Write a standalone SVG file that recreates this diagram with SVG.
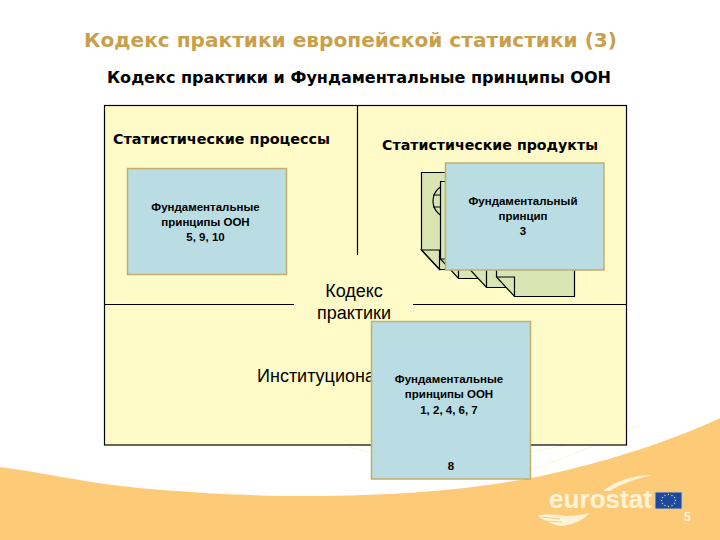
<svg xmlns="http://www.w3.org/2000/svg" width="720" height="540" viewBox="0 0 720 540">
<style>
.h{font-family:"DejaVu Sans","Noto Sans",sans-serif;font-weight:700}
.p{font-family:"DejaVu Sans","Noto Sans",sans-serif;font-weight:700;font-size:14px;fill:#000}
.l{font-family:"Liberation Sans",Arial,sans-serif;font-size:18px;fill:#000}
.b{font-family:"Liberation Sans",Arial,sans-serif;font-weight:700;font-size:11.5px;fill:#000;text-anchor:middle}
.blue{fill:#b9dde3;stroke:#c2ad6c;stroke-width:1.5}
.doc{fill:#d9e6b4;stroke:#000;stroke-width:1.2}
.ln{stroke:#000;stroke-width:1.2;fill:none}
.st{stroke:#fdf3e0;stroke-width:1;fill:none}
</style>
<rect width="720" height="540" fill="#fff"/>
<g id="background">
<path class="st" d="M349 447L372 453M532 452C550 448 570 445 590 440M531 470C570 455 600 445 640 425"/>
<path fill="#fdcb78" d="M0 467C40 472 90 484 150 489C220 495 270 496 310 496C390 496 470 490 531 478C590 466 660 446 720 418V540H0Z"/>
</g>
<text id="title" class="h" x="84" y="47" font-size="20" fill="#c99f4b" textLength="533" lengthAdjust="spacingAndGlyphs">Кодекс практики европейской статистики (3)</text>
<text id="subtitle" class="h" x="107" y="83" font-size="16" fill="#000" textLength="504" lengthAdjust="spacingAndGlyphs">Кодекс практики и Фундаментальные принципы ООН</text>
<g id="frame"><rect x="104.5" y="105.5" width="522" height="339.5" fill="#fffbc8" stroke="#000" stroke-width="1.2"/></g>
<g id="connectors">
<path class="ln" d="M357.5 105V255M104 304.500H294M413 304.500H627"/>
</g>
<g id="label-processes"><text class="p" x="113" y="144" textLength="217" lengthAdjust="spacingAndGlyphs">Статистические процессы</text></g>
<g id="label-products"><text class="p" x="382" y="150" textLength="216" lengthAdjust="spacingAndGlyphs">Статистические продукты</text></g>
<g id="documents">
<path class="doc" d="M421.500 172.500H500V269.500H439.500L421.500 250Z"/>
<g class="ln" stroke-width="1"><circle cx="450" cy="201" r="17"/><ellipse cx="450" cy="201" rx="9" ry="17"/><path d="M433 195H467M433 207H467"/></g>
<path class="ln" d="M421.500 250L439.500 269.500V250Z"/>
<path class="doc" d="M440.500 181.500H518V278.500H458.500L440.500 259Z"/>
<path class="ln" d="M440.500 259H458.500V278.500"/>
<path class="doc" d="M468.500 190.500H546V287.500H486.500L468.500 268Z"/>
<path class="ln" d="M468.500 268H486.500V287.500"/>
<path class="doc" d="M496.500 199.500H574.500V296.500H514.500L496.500 277Z"/>
<path class="ln" d="M496.500 277H514.500V296.500"/>
</g>
<g id="node-processes">
<rect class="blue" x="127.500" y="168.500" width="159" height="106"/>
<text class="b" x="205.500" y="211">Фундаментальные</text>
<text class="b" x="205.500" y="226">принципы ООН</text>
<text class="b" x="205.500" y="241">5, 9, 10</text>
</g>
<g id="node-products">
<rect class="blue" x="445.500" y="163" width="158.500" height="107"/>
<text class="b" x="523" y="205">Фундаментальный</text>
<text class="b" x="523" y="220">принцип</text>
<text class="b" x="523" y="235">3</text>
</g>
<g id="label-center">
<text class="l" x="354" y="297" text-anchor="middle">Кодекс</text>
<text class="l" x="354" y="319" text-anchor="middle">практики</text>
</g>
<text id="label-institutional" class="l" x="257" y="382">Институциона</text>
<g id="node-institutional">
<rect class="blue" x="371.500" y="321.500" width="159" height="157.500"/>
<text class="b" x="449" y="383">Фундаментальные</text>
<text class="b" x="449" y="398">принципы ООН</text>
<text class="b" x="449" y="414">1, 2, 4, 6, 7</text>
<text class="b" x="451" y="470">8</text>
</g>
<g id="logo">
<path fill="#fff3d8" d="M603 491C615 481 635 475 652 475C635 479 620 484 610 491Z"/>
<path fill="#fff3d8" d="M538 516C548 513 558 515 566 516C575 516 582 515 590 513C582 521 570 526 560 526C552 524 546 522 538 516Z"/>
<path stroke="#fdcb78" stroke-width="1" fill="none" d="M542 517L560 519M546 521L562 522"/>
<text class="h" x="549" y="508" font-size="26" fill="#fff3d8" textLength="103" lengthAdjust="spacingAndGlyphs" style="font-family:'Liberation Sans',Arial,sans-serif">eurostat</text>
<rect x="655" y="492" width="27" height="17" fill="#1d4a9e" stroke="#c9c5b8" stroke-width="1"/>
<g fill="#f4dc6a"><circle cx="668.500" cy="494.500" r=".7"/><circle cx="672" cy="495.500" r=".7"/><circle cx="674.500" cy="497.500" r=".7"/><circle cx="675.500" cy="500.500" r=".7"/><circle cx="674.500" cy="503.500" r=".7"/><circle cx="672" cy="505.500" r=".7"/><circle cx="668.500" cy="506.500" r=".7"/><circle cx="665" cy="505.500" r=".7"/><circle cx="662.500" cy="503.500" r=".7"/><circle cx="661.500" cy="500.500" r=".7"/><circle cx="662.500" cy="497.500" r=".7"/><circle cx="665" cy="495.500" r=".7"/></g>
<text x="684" y="521" font-family="'Liberation Sans',Arial,sans-serif" font-weight="700" font-size="12" fill="#fff3d8">5</text>
</g>
</svg>
